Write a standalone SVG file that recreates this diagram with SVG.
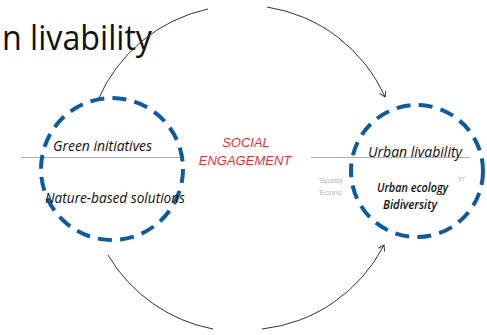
<svg xmlns="http://www.w3.org/2000/svg" width="487" height="335" viewBox="0 0 487 335">
<defs>
<marker id="arr" markerWidth="8" markerHeight="8" refX="6" refY="4" orient="auto" markerUnits="userSpaceOnUse">
<path d="M0.5,0.5 L6,4 L0.5,7.5" fill="none" stroke="#333" stroke-width="1"/>
</marker>
<style>
.arc{fill:none;stroke:#333;stroke-width:1}
.hl{stroke:#b0b0b0;stroke-width:1}
.ring{fill:none;stroke:#0f5a9c;stroke-width:4;stroke-dasharray:14 8.3}
.it{font-family:"Open Sans","Liberation Sans",sans-serif;font-style:italic;fill:#111}
.red{font-family:"Liberation Sans",Arial,sans-serif;font-style:italic;font-size:13px;fill:#d8383a;text-anchor:middle}
.faint{font-family:"Liberation Sans",Arial,sans-serif;font-size:8px;fill:#b8b8b8}
</style>
</defs>
<text x="2" y="50" font-family="Open Sans, Liberation Sans, sans-serif" font-size="35" font-weight="500" fill="#111" textLength="150" lengthAdjust="spacingAndGlyphs">n livability</text>
<g id="connectors">
<path class="arc" d="M98,100 A155,155 0 0 1 208,9"/>
<path class="arc" d="M267,7 A155,155 0 0 1 385,97" marker-end="url(#arr)"/>
<path class="arc" d="M108,255 A156,156 0 0 0 213,329"/>
<path class="arc" d="M262,329 A156,156 0 0 0 384,245" marker-end="url(#arr)"/>
<line class="hl" x1="21" y1="157.5" x2="180" y2="157.5"/>
<line class="hl" x1="311" y1="157.5" x2="470" y2="157.5"/>
</g>
<g id="social">
<text class="red" x="246" y="147">SOCIAL</text>
<text class="red" x="245" y="165">ENGAGEMENT</text>
</g>
<g id="left-node">
<circle class="ring" cx="112" cy="169" r="71"/>
<text class="it" x="53" y="151" font-size="15" textLength="99" lengthAdjust="spacingAndGlyphs">Green initiatives</text>
<text class="it" x="45" y="203" font-size="15" textLength="140" lengthAdjust="spacingAndGlyphs">Nature-based solutions</text>
</g>
<g id="right-node">
<text class="faint" x="318" y="183">‘Spatia</text>
<text class="faint" x="318" y="195">‘Econc</text>
<text class="faint" x="458" y="181">in’</text>
<circle class="ring" cx="417" cy="171" r="66"/>
<text class="it" x="368" y="157" font-size="15" textLength="94" lengthAdjust="spacingAndGlyphs">Urban livability</text>
<text class="it" x="377" y="192" font-size="12.5" font-weight="600" textLength="71" lengthAdjust="spacingAndGlyphs">Urban ecology</text>
<text class="it" x="383" y="209" font-size="12.5" font-weight="600" textLength="54" lengthAdjust="spacingAndGlyphs">Bidiversity</text>
</g>
</svg>
